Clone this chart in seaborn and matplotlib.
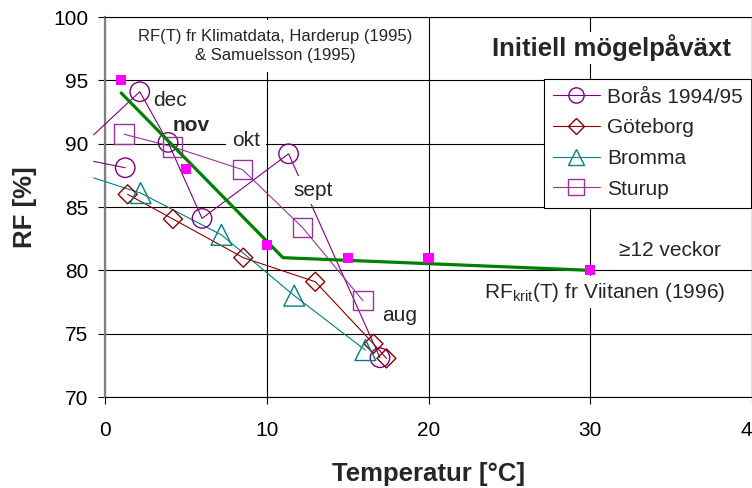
import matplotlib
matplotlib.use("Agg")
import matplotlib.pyplot as plt
from matplotlib.lines import Line2D
import pandas as pd
import seaborn as sns

# Monthly means (temperature °C, relative humidity %), autumn -> winter
boras_t = [17.0, 11.35, 6.0, 3.9, 2.15, -0.7, -0.7, 1.25]
boras_rf = [73.1, 89.2, 84.1, 90.1, 94.1, 90.7, 88.6, 88.1]
boras_seg = [0, 0, 0, 0, 0, 0, 1, 1]

gbg_t = [17.4, 16.6, 13.0, 8.55, 4.2, 1.4]
gbg_rf = [73.05, 74.2, 79.1, 81.0, 84.05, 86.0]

bromma_t = [16.1, 11.7, 7.2, 2.2, -0.7]
bromma_rf = [73.7, 78.0, 82.8, 86.1, 87.3]

sturup_t = [15.95, 12.2, 8.5, 4.18, 1.17]
sturup_rf = [77.6, 83.4, 87.95, 89.75, 90.75]

# Critical RH for initial mould growth (Viitanen 1996)
krit_t = [1, 11, 30]
krit_rf = [94, 81, 80]
viit_t = [1, 5, 10, 15, 20, 30]
viit_rf = [95, 88, 82, 81, 81, 80]

x_ticks = [0, 10, 20, 30, 40]
y_ticks = [70, 75, 80, 85, 90, 95, 100]

sns.set_theme(style="white")
plt.rcParams["font.family"] = ["Liberation Sans", "DejaVu Sans"]
plt.rcParams["mathtext.fontset"] = "custom"
plt.rcParams["mathtext.rm"] = "Liberation Sans"

fig = plt.figure(figsize=(7.52, 4.88), dpi=100)
fig.patch.set_facecolor("white")
W, H = 752, 488
ax = fig.add_axes([105 / W, 91 / H, 647 / W, 380 / H])
ax.set_facecolor("white")

series = [
    ("Borås 1994/95", boras_t, boras_rf, boras_seg, "#800080", "o", 196),
    ("Göteborg", gbg_t, gbg_rf, [0] * len(gbg_t), "#8b0000", "D", 94),
    ("Bromma", bromma_t, bromma_rf, [0] * len(bromma_t), "#008080", "^", 225),
    ("Sturup", sturup_t, sturup_rf, [0] * len(sturup_t), "#993399", "s", 196),
]

handles = []
for name, t, rf, seg, col, mk, sz in series:
    df = pd.DataFrame({"T": t, "RF": rf, "seg": seg})
    n0 = len(ax.lines)
    sns.lineplot(data=df, x="T", y="RF", units="seg", estimator=None,
                 sort=False, color=col, lw=0.8, ax=ax, legend=False, zorder=3)
    for ln in ax.lines[n0:]:
        ln.set_clip_on(False)
    sns.scatterplot(data=df, x="T", y="RF", marker=mk, s=sz, color=col,
                    facecolors="none", edgecolor=col, linewidth=1.0,
                    ax=ax, legend=False, zorder=4)
    lms = {"o": 11, "D": 8.5, "^": 11.5, "s": 11}[mk]
    handles.append(Line2D([], [], color=col, lw=0.8, marker=mk, markersize=lms,
                          markerfacecolor="none", markeredgecolor=col,
                          markeredgewidth=1.0, label=name))

krit = pd.DataFrame({"T": krit_t, "RF": krit_rf})
sns.lineplot(data=krit, x="T", y="RF", sort=False, estimator=None,
             color="#008000", lw=2.3, ax=ax, legend=False, zorder=5)
viit = pd.DataFrame({"T": viit_t, "RF": viit_rf})
sns.scatterplot(data=viit, x="T", y="RF", marker="s", s=52, color="#ff00ff",
                edgecolor="none", ax=ax, legend=False, zorder=6)

ax.set_xlim(0, 40)
ax.set_ylim(70, 100)
ax.set_xticks(x_ticks)
ax.set_yticks(y_ticks)
ax.grid(True, color="black", lw=0.8)
ax.set_axisbelow(True)
for s in ["top", "bottom", "right"]:
    ax.spines[s].set_color("black")
    ax.spines[s].set_linewidth(0.8)
ax.spines["left"].set_color("#808080")
ax.spines["left"].set_linewidth(1.6)
ax.tick_params(axis="both", direction="out", length=5, width=0.8,
               color="black", labelsize=15, labelcolor="black")
ax.tick_params(axis="y", pad=7, left=True)
ax.tick_params(axis="x", pad=12, bottom=True)

ax.set_xlabel("Temperatur [°C]", fontsize=18.5, fontweight="bold", labelpad=16)
ax.set_ylabel("RF [%]", fontsize=18.5, fontweight="bold", labelpad=12)


def px(x, y):
    return (x - 105) / 647 * 40, 100 - (y - 17) / 380 * 30


box = dict(facecolor="white", edgecolor="none", pad=3)

ax.text(*px(275, 46), "RF(T) fr Klimatdata, Harderup (1995)\n& Samuelsson (1995)",
        ha="center", va="center", fontsize=12, linespacing=1.4, zorder=7,
        bbox=dict(facecolor="white", edgecolor="none", pad=6))
ax.text(*px(611, 48), "Initiell mögelpåväxt", ha="center", va="center",
        fontsize=18.5, fontweight="bold", zorder=7,
        bbox=dict(facecolor="white", edgecolor="none", pad=2))
ax.text(*px(170, 100), "dec", ha="center", va="center", fontsize=15, zorder=7)
ax.text(*px(191, 125), "nov", ha="center", va="center", fontsize=15,
        fontweight="bold", zorder=7)
ax.text(*px(246, 140), "okt", ha="center", va="center", fontsize=15, zorder=7,
        bbox=dict(facecolor="white", edgecolor="none", pad=4))
ax.text(*px(313, 190), "sept", ha="center", va="center", fontsize=15, zorder=7,
        bbox=box)
ax.text(*px(400, 315), "aug", ha="center", va="center", fontsize=15, zorder=7,
        bbox=box)
ax.text(*px(670, 250), "≥12 veckor", ha="center", va="center", fontsize=15,
        zorder=7)
ax.text(*px(605, 292), r"RF$_{\mathrm{krit}}$(T) fr Viitanen (1996)",
        ha="center", va="center", fontsize=15, zorder=7, bbox=box)

leg = ax.legend(handles=handles, loc="upper left",
                bbox_to_anchor=((544 - 105) / 647, (397 - 79) / 380),
                borderaxespad=0, fontsize=15, frameon=True, fancybox=False,
                framealpha=1, edgecolor="black", handlelength=2.25,
                handletextpad=0.35, labelspacing=0.56, borderpad=0.42)
leg.get_frame().set_linewidth(0.8)
leg.set_zorder(8)

fig.savefig("out.png", dpi=100, facecolor="white")
